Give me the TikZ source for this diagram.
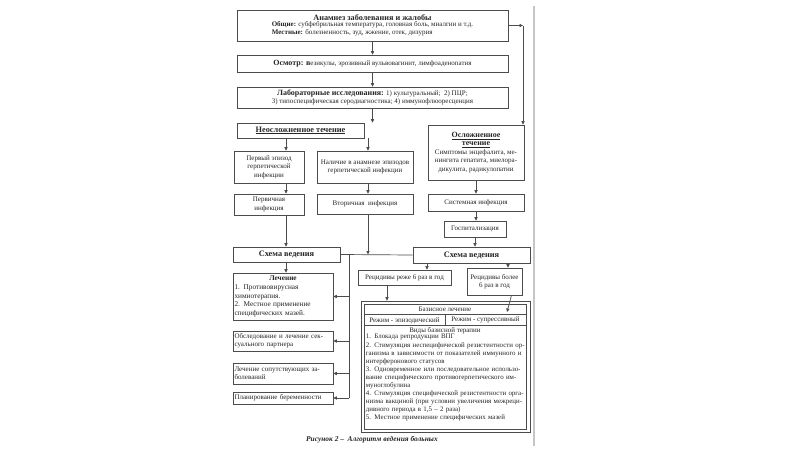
\documentclass[tikz,border=0pt]{standalone}
\usepackage{fontspec}
\setmainfont{Liberation Serif}
\usetikzlibrary{arrows.meta,calc}
\begin{document}
\begin{tikzpicture}[x=1pt,y=-1pt,
  every node/.style={text=black!85},
  box/.style={draw=black!70, line width=0.7pt, fill=white, inner sep=1.5pt, align=center,
    font=\fontsize{7}{8.4}\selectfont},
  arr/.style={draw=black!70, line width=0.7pt, -{Triangle[length=3.5pt,width=3.2pt]}},
  ln/.style={draw=black!70, line width=0.7pt},
  txt/.style={inner sep=0pt, font=\fontsize{7}{8.2}\selectfont},
  ttl/.style={font=\bfseries\fontsize{8.3}{9.5}\selectfont},
]
\fill[white] (0,0) rectangle (800,450);
\useasboundingbox (0,0) rectangle (800,450);
% page edge
\draw[gray!45, line width=1.2pt] (534,6) -- (534,446);

% column coordinates
\coordinate (colL) at (286,0);
\coordinate (colM) at (368,0);
\coordinate (vx) at (349,0);
\coordinate (cR1) at (427,0);
\coordinate (cR2) at (508,0);
\coordinate (cR3) at (387,0);

\node[box, minimum width=271pt, minimum height=31pt] (anam) at (372.5,25.5)
 {\textbf{\fontsize{8.2}{9.2}\selectfont Анамнез заболевания и жалобы}\\
  \renewcommand\arraystretch{0.92}%
  \begin{tabular}{@{}l@{}}\textbf{Общие:} субфебрильная температура, головная боль, миалгии и т.д.\\
  \textbf{Местные:} болезненность, зуд, жжение, отек, дизурия\end{tabular}};
\node[box, minimum width=271pt, minimum height=17pt] (osm) at (372.5,63.5)
 {\textbf{\fontsize{8}{9}\selectfont Осмотр: в}езикулы, эрозивный вульвовагинит, лимфоаденопатия};
\node[box, minimum width=271pt, minimum height=21pt] (lab) at (372.5,97.5)
 {\textbf{\fontsize{8}{9}\selectfont Лабораторные исследования:} 1) культуральный;\ \ 2) ПЦР;\\
  3) типоспецифическая серодиагностика; 4) иммунофлюоресценция};
\node[box, ttl, minimum width=127pt, minimum height=15pt] (neo) at (300.5,130.5)
 {\underline{Неосложненное течение}};
\node[box, minimum width=96pt, minimum height=55pt] (osl) at (476,152.5)
 {\textbf{\fontsize{8}{9}\selectfont\underline{Осложненное}}\\
  \textbf{\fontsize{8}{9}\selectfont\underline{течение}}\\
  Симптомы энцефалита, ме-\\нингита гепатита, миелора-\\дикулита, радикулопатии};

\node[box, minimum width=70pt, minimum height=32pt] (first) at (269,167) {Первый эпизод\\герпетической\\инфекции};
\node[box, minimum width=96pt, minimum height=32pt] (nal) at (365,167) {Наличие в анамнезе эпизодов\\герпетической инфекции};
\node[box, minimum width=70pt, minimum height=21pt] (prim) at (269,204.5) {Первичная\\инфекция};
\node[box, minimum width=96pt, minimum height=20pt] (sec) at (365,204) {Вторичная\ \ инфекция};
\node[box, minimum width=96pt, minimum height=17pt] (sys) at (476,202.5) {Системная инфекция};
\node[box, minimum width=62pt, minimum height=16pt] (hosp) at (475,229) {Госпитализация};
\node[box, ttl, minimum width=107pt, minimum height=15pt] (schL) at (286.5,254.5) {Схема ведения};
\node[box, ttl, minimum width=117pt, minimum height=16pt] (schR) at (471.5,255) {Схема ведения};

\node[box, align=left, text width=97pt, minimum height=47pt, font=\fontsize{7.3}{8.8}\selectfont] (lech) at (283,296.5)
 {\makebox[97pt]{\textbf{Лечение}}\\1. Противовирусная\\химиотерапия.\\2. Местное применение\\специфических мазей.};
\node[box, align=left, text width=97pt, minimum height=20pt] (obs) at (283,341) {Обследование и лечение сек-\\суального партнера};
\node[box, align=left, text width=97pt, minimum height=21pt] (sop) at (283,373.5) {Лечение сопутствующих за-\\болеваний};
\node[box, align=left, text width=97pt, minimum height=12pt] (plan) at (283,398) {Планирование беременности};

\node[box, minimum width=93pt, minimum height=15pt] (recL) at (404.5,277.5) {Рецидивы реже 6 раз в год};
\node[box, minimum width=55pt, minimum height=27pt] (recR) at (494.5,281.5) {Рецидивы более\\6 раз в год};

% basic therapy box (double frame)
\node[box, minimum width=169pt, minimum height=131pt] (basout) at (445.5,366.5) {};
\node[box, minimum width=162pt, minimum height=125pt] (bas) at (445,366.5) {};
\draw[ln] ($(bas.north west)+(0,11)$) -- ($(bas.north east)+(0,11)$);
\draw[ln] ($(bas.north west)+(0,22)$) -- ($(bas.north east)+(0,22)$);
\draw[ln] ($(bas.north)+(0,11)$) -- ($(bas.north)+(0,22)$);
\node[txt] (bl) at ($(bas.north)+(0,5.7)$) {Базисное лечение};
\node[txt] (r1) at ($(bas.north)+(-40.5,16.7)$) {Режим - эпизодический};
\node[txt] (r2) at ($(bas.north)+(40.5,16.7)$) {Режим - супрессивный};
\node[txt] (vid) at ($(bas.north)+(0,27)$) {Виды базисной терапии};
\node[txt, anchor=north west, align=left, text width=160pt, font=\fontsize{6.9}{8.1}\selectfont] (list) at ($(bas.north west)+(2,30.5)$)
 {1. Блокада репродукции ВПГ\\
  2. Стимуляция неспецифической резистентности ор-\\
  ганизма в зависимости от показателей иммунного и\\
  интерферонового статусов\\
  3. Одновременное или последовательное использо-\\
  вание специфического противогерпетического им-\\
  муноглобулина\\
  4. Стимуляция специфической резистентности орга-\\
  низма вакциной (при условии увеличения межреци-\\
  дивного периода в 1,5 – 2 раза)\\
  5. Местное применение специфических мазей};

\node[font=\bfseries\itshape\fontsize{7.4}{8}\selectfont, inner sep=0pt] (cap) at (372,439.5) {Рисунок 2 –\ \ Алгоритм ведения больных};

% connectors
\coordinate (rt) at (523,25.5);
\draw[arr] (anam.south) -- (osm.north);
\draw[arr] (osm.south) -- (lab.north);
\draw[arr] (lab.south) -- (lab.south |- neo.north);
\draw[arr] (anam.east) -- (rt);
\draw[arr] (rt) -- (rt |- osl.north);
\draw[arr] (neo.south -| colL) -- (first.north -| colL);
\draw[arr] (neo.south -| colM) -- (nal.north -| colM);
\draw[arr] (first.south -| colL) -- (prim.north -| colL);
\draw[arr] (nal.south -| colM) -- (sec.north -| colM);
\draw[arr] (osl.south) -- (sys.north);
\draw[arr] (sys.south) -- (sys.south |- hosp.north);
\draw[arr] (hosp.south) -- (hosp.south |- schR.north);
\draw[arr] (prim.south -| colL) -- (schL.north -| colL);
\draw[ln] (schL.east) -- (schR.west);
\draw[arr] (sec.south -| colM) -- (schL.east -| colM);
\draw[ln] (schL.east -| vx) -- (plan.east -| vx);
\draw[arr] (schL.south -| colL) -- (lech.north -| colL);
\draw[arr] (lech.east -| vx) -- (lech.east);
\draw[arr] (obs.east -| vx) -- (obs.east);
\draw[arr] (sop.east -| vx) -- (sop.east);
\draw[arr] (plan.east -| vx) -- (plan.east);
\draw[arr] (schR.south -| cR1) -- (recL.north -| cR1);
\draw[arr] (schR.south -| cR2) -- (recR.north -| cR2);
\draw[arr] (recL.south -| cR3) -- (basout.north -| cR3);
\coordinate (rrtip) at (507,312);
\draw[arr] ($(recR.south)+(17,0)$) -- (rrtip);
\end{tikzpicture}
\end{document}
